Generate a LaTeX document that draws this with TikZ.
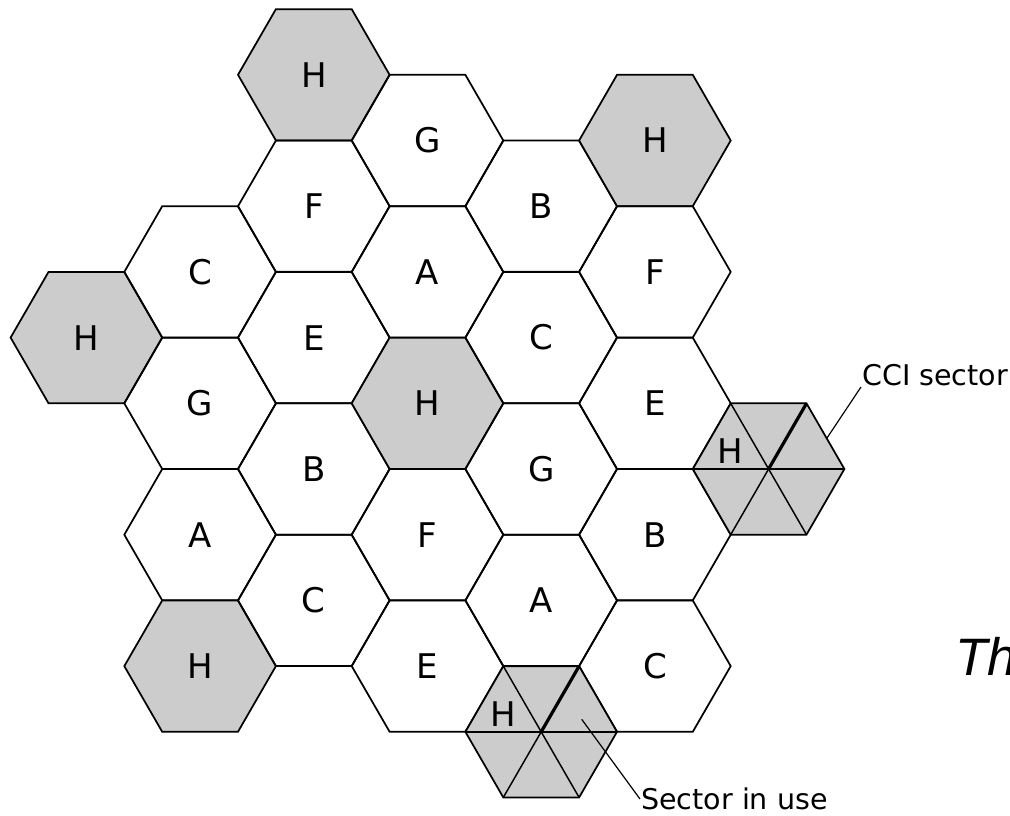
\documentclass[tikz,border=0pt]{standalone}
\usepackage{fontspec}
\setmainfont{DejaVu Sans}
\newfontfamily\captionfont{Liberation Sans}
\usepackage{tikz}
\usetikzlibrary{shapes.geometric}

\begin{document}
\begin{tikzpicture}[x=0.75pt,y=0.75pt,yscale=-1,xscale=1,
    cellfont/.style={font=\fontsize{25.5}{30}\selectfont},
    hexcell/.style={regular polygon,regular polygon sides=6,minimum size=113.7pt,inner sep=0pt,outer sep=0pt,draw=black,line width=1.3pt,cellfont},
    hexH/.style={hexcell,fill=black!20},
    spoke/.style={line width=1.1pt},
    ccispoke/.style={line width=2.4pt},
    leader/.style={line width=0.9pt},
    callout/.style={inner sep=0.75pt,font=\fontsize{21.4}{25}\selectfont}]
    \useasboundingbox (0,0) rectangle (1010,815); %set diagram to 1010 x 815

    %Shape: Hexagon column 1
    \node [hexH]    (H1) at (86.4,337.6) {H};
    %Shape: Hexagon column 2
    \node [hexcell] (C1) at (200.1,271.9) {C};
    \node [hexcell] (G1) at (200.1,403.3) {G};
    \node [hexcell] (A1) at (200.1,534.7) {A};
    \node [hexH]    (H2) at (200.1,666.1) {H};
    %Shape: Hexagon column 3
    \node [hexH]    (H3) at (313.8,74.8) {H};
    \node [hexcell] (F1) at (313.8,206.2) {F};
    \node [hexcell] (E1) at (313.8,337.6) {E};
    \node [hexcell] (B1) at (313.8,469.0) {B};
    \node [hexcell] (C2) at (313.8,600.4) {C};
    %Shape: Hexagon column 4
    \node [hexcell] (G2) at (427.5,140.5) {G};
    \node [hexcell] (A2) at (427.5,271.9) {A};
    \node [hexH]    (H4) at (427.5,403.3) {H};
    \node [hexcell] (F2) at (427.5,534.7) {F};
    \node [hexcell] (E2) at (427.5,666.1) {E};
    %Shape: Hexagon column 5
    \node [hexcell] (B2) at (541.2,206.2) {B};
    \node [hexcell] (C3) at (541.2,337.6) {C};
    \node [hexcell] (G3) at (541.2,469.0) {G};
    \node [hexcell] (A3) at (541.2,600.4) {A};
    %Shape: Hexagon column 6
    \node [hexH]    (H5) at (654.9,140.5) {H};
    \node [hexcell] (F3) at (654.9,271.9) {F};
    \node [hexcell] (E3) at (654.9,403.3) {E};
    \node [hexcell] (B3) at (654.9,534.7) {B};
    \node [hexcell] (C4) at (654.9,666.1) {C};

    %Shape: Sectored Hexagon (right)
    \node [hexH] (secA) at (768.6,469.0) {};
    \draw [spoke]    (secA.0) -- (secA.180) ;
    \draw [spoke]    (secA.120) -- (secA.300) ;
    \draw [spoke]    (secA.center) -- (secA.240) ;
    \draw [ccispoke] (secA.center) -- (secA.60) ;
    %Shape: Sectored Hexagon (bottom)
    \node [hexH] (secB) at (541.2,731.8) {};
    \draw [spoke]    (secB.0) -- (secB.180) ;
    \draw [spoke]    (secB.120) -- (secB.300) ;
    \draw [spoke]    (secB.center) -- (secB.240) ;
    \draw [ccispoke] (secB.center) -- (secB.60) ;

    % Text Node
    \node [cellfont] (secAH) at (730.2,451.3) {H};
    % Text Node
    \node [cellfont] (secBH) at (502.8,714.1) {H};
    % Text Node
    \node [callout,anchor=south west] (cciLbl) at (861,387) {CCI sector};
    % Text Node
    \node [callout,anchor=west] (useLbl) at (640,799) {Sector in use};
    % Text Node
    \node [anchor=base west,inner sep=0pt,font=\captionfont\itshape\fontsize{39.5}{44}\selectfont] (th) at (955,675) {Th};

    %Straight Lines
    \coordinate (cciPt) at (827,438);
    \coordinate (usePt) at (581.7,719.3);
    \draw [leader] (cciPt) -- (cciLbl.south west) ;
    \draw [leader] (usePt) -- (useLbl.west) ;
\end{tikzpicture}
\end{document}
